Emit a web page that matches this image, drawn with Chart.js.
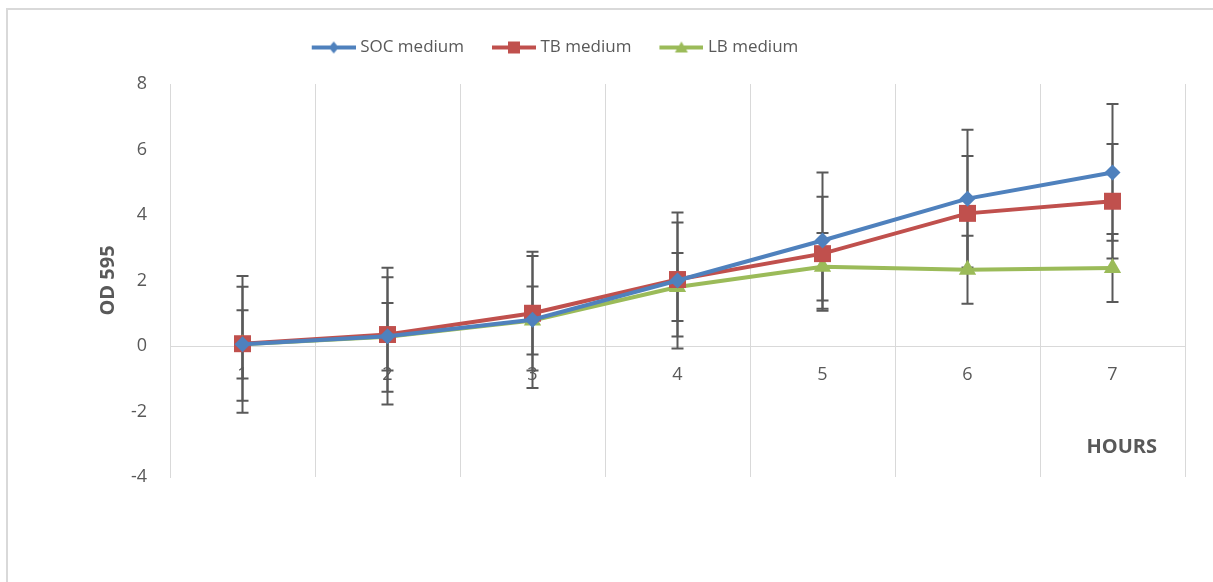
<!DOCTYPE html>
<html>
<head>
<meta charset="utf-8">
<script src="https://cdn.jsdelivr.net/npm/chart.js@4.4.1/dist/chart.umd.min.js"></script>
<style>
  html, body { margin: 0; padding: 0; background: #fff; overflow: hidden; }
  #frame { position: absolute; left: 6px; top: 8px; width: 1400px; height: 800px;
           border-left: 2px solid #d9d9d9; border-top: 2px solid #d9d9d9; }
  #wrap { position: absolute; left: -75px; top: 0; width: 1288px; height: 582px; }
</style>
</head>
<body>
<div id="frame"></div>
<div id="wrap"><canvas id="growth"></canvas></div>
<script>
// growth curves, OD 595 per hour, with error bars

const hours = ["1", "2", "3", "4", "5", "6", "7"];

const socMedium = [0.05, 0.30, 0.80, 2.00, 3.22, 4.50, 5.30];
const tbMedium  = [0.07, 0.35, 1.00, 2.03, 2.82, 4.05, 4.42];
const lbMedium  = [0.05, 0.28, 0.78, 1.80, 2.42, 2.33, 2.38];

// error bar (+/-) per point
const socErr = [2.09, 2.09, 2.08, 2.08, 2.08, 2.10, 2.09];
const tbErr  = [1.74, 1.75, 1.75, 1.74, 1.74, 1.75, 1.75];
const lbErr  = [1.04, 1.03, 1.04, 1.04, 1.03, 1.04, 1.04];

const yTicks = [-4, -2, 0, 2, 4, 6, 8];

const FONT = "'Open Sans', sans-serif";
const GREY = "#595959";

// little line+marker picture used in the legend
function legendIcon(color, style){
  const c = document.createElement("canvas");
  c.width = 48; c.height = 16;
  const g = c.getContext("2d");
  g.strokeStyle = color; g.fillStyle = color; g.lineWidth = 4;
  g.beginPath(); g.moveTo(4, 8); g.lineTo(48, 8); g.stroke();
  const cx = 26, cy = 8;
  g.beginPath();
  if (style === "diamond") {
    g.moveTo(cx, cy - 6); g.lineTo(cx + 5, cy); g.lineTo(cx, cy + 6); g.lineTo(cx - 5, cy);
  } else if (style === "square") {
    g.rect(cx - 6, cy - 6, 12, 12);
  } else {
    g.moveTo(cx, cy - 6); g.lineTo(cx + 6.5, cy + 5); g.lineTo(cx - 6.5, cy + 5);
  }
  g.closePath(); g.fill();
  return c;
}

const errorBars = {
  id: "errorBars",
  beforeDatasetsDraw(chart){
    const ctx = chart.ctx, y = chart.scales.y;
    ctx.save();
    ctx.strokeStyle = GREY;
    ctx.lineWidth = 2;
    chart.data.datasets.forEach((ds, i) => {
      const meta = chart.getDatasetMeta(i);
      ds.data.forEach((v, j) => {
        const x = meta.data[j].x;
        const top = y.getPixelForValue(v + ds.errors[j]);
        const bot = y.getPixelForValue(v - ds.errors[j]);
        ctx.beginPath();
        ctx.moveTo(x, top); ctx.lineTo(x, bot);
        ctx.moveTo(x - 6, top); ctx.lineTo(x + 6, top);
        ctx.moveTo(x - 6, bot); ctx.lineTo(x + 6, bot);
        ctx.stroke();
      });
    });
    ctx.restore();
  }
};

const hoursTitle = {
  id: "hoursTitle",
  afterDraw(chart){
    const ctx = chart.ctx, a = chart.chartArea;
    ctx.save();
    ctx.font = "bold 20px " + FONT;
    ctx.fillStyle = GREY;
    ctx.textAlign = "right";
    ctx.textBaseline = "middle";
    ctx.fillText("HOURS", a.right - 28, a.bottom - 30);
    ctx.restore();
  }
};

function series(label, data, errors, color, style, radius){
  return {
    label, data, errors,
    borderColor: color,
    backgroundColor: color,
    borderWidth: 4,
    tension: 0,
    pointStyle: style,
    pointRadius: radius,
    pointHoverRadius: radius,
    pointBorderWidth: 0,
    legendStyle: style === "rectRot" ? "diamond" : style === "rect" ? "square" : "triangle"
  };
}

new Chart(document.getElementById("growth"), {
  type: "line",
  data: {
    labels: hours,
    datasets: [
      series("SOC medium", socMedium, socErr, "#4f81bd", "rectRot", 8),
      series("TB medium", tbMedium, tbErr, "#c0504d", "rect", 12),
      series("LB medium", lbMedium, lbErr, "#9bbb59", "triangle", 10)
    ]
  },
  plugins: [errorBars, hoursTitle],
  options: {
    responsive: true,
    maintainAspectRatio: false,
    animation: false,
    layout: { padding: { top: 11, right: 28, bottom: 105, left: 0 } },
    plugins: {
      // empty title used only as a gap between legend and plot
      title: {
        display: true,
        text: "",
        weight: 500,
        padding: 0,
        font: { size: 18, lineHeight: 1 }
      },
      legend: {
        position: "top",
        labels: {
          usePointStyle: true,
          pointStyleWidth: 40,
          padding: 28,
          color: GREY,
          font: { family: FONT, size: 17 },
          generateLabels(chart){
            return chart.data.datasets.map((ds, i) => ({
              text: ds.label,
              pointStyle: legendIcon(ds.borderColor, ds.legendStyle),
              fillStyle: ds.borderColor,
              strokeStyle: ds.borderColor,
              lineWidth: 0,
              fontColor: GREY,
              hidden: !chart.isDatasetVisible(i),
              datasetIndex: i
            }));
          }
        }
      },
      tooltip: { enabled: false }
    },
    scales: {
      x: {
        type: "category",
        position: { y: 0 },
        offset: true,
        grid: { offset: true, color: "#d9d9d9", lineWidth: 1, drawTicks: false },
        border: { color: "#d9d9d9", width: 1 },
        ticks: { color: GREY, font: { family: FONT, size: 18 }, padding: 18 }
      },
      y: {
        min: -4,
        max: 8,
        afterBuildTicks(scale){ scale.ticks = yTicks.map(v => ({ value: v })); },
        afterFit(scale){ scale.width = 245; },
        grid: { display: false, drawTicks: false },
        border: { display: true, color: "#d9d9d9", width: 1 },
        ticks: { color: GREY, font: { family: FONT, size: 18 }, padding: 23 },
        title: {
          display: true,
          text: "OD 595",
          color: GREY,
          font: { family: FONT, size: 20, weight: "bold" },
          padding: { top: 171, bottom: 0 }
        }
      }
    }
  }
});
</script>
</body>
</html>
